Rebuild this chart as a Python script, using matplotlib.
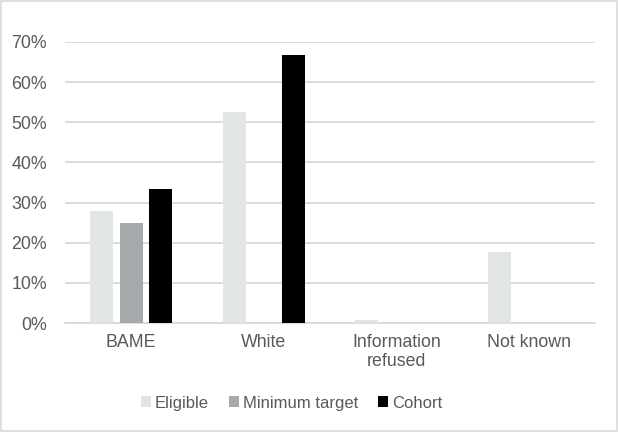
import matplotlib.pyplot as plt
import numpy as np
from matplotlib.patches import Rectangle
from matplotlib.ticker import PercentFormatter

# Datos
categorias = ['BAME', 'White', 'Information\nrefused', 'Not known']
eligible = [0.28, 0.525, 0.008, 0.176]
minimum_target = [0.25, 0, 0, 0]
cohort = [0.333, 0.667, 0, 0]

plt.rcParams['font.family'] = ['Liberation Sans', 'DejaVu Sans']
plt.rcParams['font.size'] = 12.8

texto = '#595959'
fig = plt.figure(figsize=(6.18, 4.32), dpi=100)
ax = fig.add_axes([0.105, 0.252, 0.858, 0.651])

x = np.arange(len(categorias))
ancho = 0.174
paso = 0.223
ax.bar(x - paso, eligible, ancho, color='#E2E6E3', label='Eligible', zorder=3)
ax.bar(x, minimum_target, ancho, color='#A5A9AB', label='Minimum target', zorder=3)
ax.bar(x + paso, cohort, ancho, color='#000000', label='Cohort', zorder=3)

ax.set_xlim(-0.5, len(categorias) - 0.5)
ax.set_ylim(0, 0.7)
ax.set_yticks(np.arange(0, 0.71, 0.1))
ax.yaxis.set_major_formatter(PercentFormatter(1.0, decimals=0))
ax.set_xticks(x)
ax.set_xticklabels(categorias, color=texto, linespacing=1.15)
ax.tick_params(axis='y', colors=texto, length=0, pad=13)
ax.tick_params(axis='x', colors=texto, length=0, pad=8)
ax.grid(axis='y', color='#D9D9D9', linewidth=1.3, zorder=0)
for s in ['top', 'right', 'left']:
    ax.spines[s].set_visible(False)
ax.spines['bottom'].set_color('#D9D9D9')
ax.spines['bottom'].set_linewidth(1.3)

leg = fig.legend(loc='center', bbox_to_anchor=(0.472, 0.067), ncol=3, frameon=False,
                 fontsize=12, handlelength=0.6, handleheight=0.6, handletextpad=0.25,
                 columnspacing=1.2)
for t in leg.get_texts():
    t.set_color(texto)

fig.patches.append(Rectangle((0.002, 0.003), 0.996, 0.994, transform=fig.transFigure,
                             fill=False, edgecolor='#D9D9D9', linewidth=1.2))

fig.savefig('out.png', dpi=100)
